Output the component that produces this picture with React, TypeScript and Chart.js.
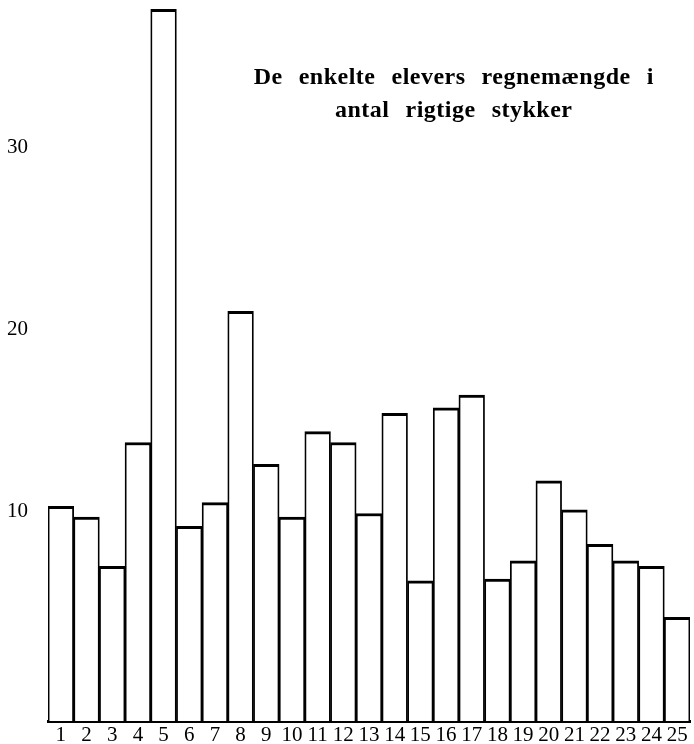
import { useEffect, useRef } from "react";
import { Chart, registerables } from "chart.js";

Chart.register(...registerables);

const students = [
  "1", "2", "3", "4", "5", "6", "7", "8", "9", "10", "11", "12", "13",
  "14", "15", "16", "17", "18", "19", "20", "21", "22", "23", "24", "25",
];
const correctCounts = [
  10.3, 9.7, 7.0, 13.8, 37.6, 9.2, 10.5, 21.0, 12.6, 9.7, 14.4, 13.8, 9.9,
  15.4, 6.2, 15.7, 16.4, 6.3, 7.3, 11.7, 10.1, 8.2, 7.3, 7.0, 4.2,
];
const yTickValues = [10, 20, 30];
const titleLines = ["De enkelte elevers regnemængde i", "antal rigtige stykker"];

const SERIF = '"Liberation Serif", "Times New Roman", serif';
const AXIS_MIN = -1.5;

const titlePlugin = {
  id: "insideTitle",
  afterDraw(chart: any) {
    const { ctx, chartArea } = chart;
    ctx.save();
    ctx.font = `bold 24px ${SERIF}`;
    try {
      (ctx as any).letterSpacing = "0.5px";
    } catch (e) {}
    ctx.fillStyle = "#000";
    ctx.textBaseline = "alphabetic";
    ctx.textAlign = "left";
    const centerX = chartArea.left + (chartArea.right - chartArea.left) * 0.632;
    const gap = 16;
    titleLines.forEach((line, i) => {
      const words = line.split(" ");
      const widths = words.map((w) => ctx.measureText(w).width);
      const total = widths.reduce((a, b) => a + b, 0) + gap * (words.length - 1);
      let x = centerX - total / 2;
      const y = chartArea.top + 82 + i * 33;
      words.forEach((w, j) => {
        ctx.fillText(w, x, y);
        x += widths[j] + gap;
      });
    });
    ctx.restore();
  },
};

export default function App() {
  const canvasRef = useRef<HTMLCanvasElement | null>(null);

  useEffect(() => {
    if (!canvasRef.current) return;
    const chart = new Chart(canvasRef.current, {
      type: "bar",
      data: {
        labels: students,
        datasets: [
          {
            data: correctCounts,
            base: AXIS_MIN,
            backgroundColor: "#ffffff",
            borderColor: "#000000",
            borderWidth: { top: 3, left: 1.8, right: 1.8, bottom: 0 },
            borderSkipped: "bottom",
            barPercentage: 1,
            categoryPercentage: 1,
          } as any,
        ],
      },
      options: {
        responsive: false,
        animation: false,
        layout: { padding: { top: 2, left: 0, right: 4, bottom: 0 } },
        plugins: {
          legend: { display: false },
          tooltip: { enabled: false },
          title: { display: false },
        },
        scales: {
          x: {
            grid: { display: false, drawTicks: false },
            border: { display: true, color: "#000", width: 3 },
            ticks: {
              color: "#000",
              font: { family: SERIF, size: 21 },
              padding: 2,
              maxRotation: 0,
              minRotation: 0,
              autoSkip: false,
            },
            afterFit(s: any) {
              s.height = 23;
              s.paddingLeft = 0;
              s.paddingRight = 0;
            },
          },
          y: {
            min: AXIS_MIN,
            max: 38,
            grid: { display: false, drawTicks: false },
            border: { display: false },
            ticks: {
              color: "#000",
              font: { family: SERIF, size: 21 },
              padding: 20,
            },
            afterBuildTicks(s: any) {
              s.ticks = yTickValues.map((v) => ({ value: v }));
            },
            afterFit(s: any) {
              s.width = 48;
              s.paddingTop = 0;
              s.paddingBottom = 0;
            },
          },
        },
      },
      plugins: [titlePlugin],
    });
    return () => chart.destroy();
  }, []);

  return (
    <div style={{ position: "absolute", left: 0, top: 0, width: 694, height: 744, background: "#fff" }}>
      <canvas ref={canvasRef} width={694} height={744} style={{ width: 694, height: 744 }} />
    </div>
  );
}
